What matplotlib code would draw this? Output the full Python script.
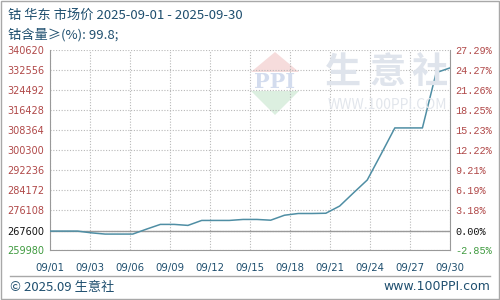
import numpy as np
import matplotlib
matplotlib.use("Agg")
import matplotlib.pyplot as plt
from matplotlib.patches import Polygon, Rectangle
from matplotlib.lines import Line2D

plt.rcParams['font.family'] = ['Noto Sans CJK SC', 'DejaVu Sans']

# 数据：9月每日价格（元/吨）
days = list(range(1, 31))
prices = [267600, 267600, 267600, 266900, 266400, 266400, 266400, 268400,
          270300, 270300, 269900, 271900, 271900, 271900, 272300, 272300,
          272000, 274000, 274700, 274700, 274800, 277700, 283000, 288200,
          298600, 309200, 309200, 309200, 331500, 333400]

y_ticks = [259980, 267600, 276108, 284172, 292236, 300300, 308364,
           316428, 324492, 332556, 340620]
pct_labels = ['-2.85%', '0.00%', '3.18%', '6.19%', '9.21%', '12.22%',
              '15.23%', '18.25%', '21.26%', '24.27%', '27.29%']
x_labels = ['09/01', '09/03', '09/06', '09/09', '09/12', '09/15',
            '09/18', '09/21', '09/24', '09/27', '09/30']
base_price = 267600

title = '钴 华东 市场价 2025-09-01 - 2025-09-30'
subtitle = '钴含量≥(%): 99.8;'

W, H = 500, 300
fig = plt.figure(figsize=(5, 3), dpi=100)
fig.patch.set_facecolor('white')


def fx(px):
    return px / W


def fy(py):
    return 1 - py / H


# 外框和页脚分隔线
fig.add_artist(Rectangle((fx(1), fy(299)), fx(498), 298 / H, transform=fig.transFigure,
                         fill=False, edgecolor='#a8a8a8', lw=1))
fig.add_artist(Line2D([fx(10), fx(490)], [fy(276), fy(276)], transform=fig.transFigure,
                      color='#a8a8a8', lw=1))

# 水印
logo_kw = dict(transform=fig.transFigure, closed=True, lw=0, zorder=0)
fig.add_artist(Polygon([(fx(275), fy(52)), (fx(251), fy(72)), (fx(299), fy(72))],
                       facecolor='#f6dcdc', **logo_kw))
fig.add_artist(Polygon([(fx(251), fy(91)), (fx(299), fy(91)), (fx(275), fy(115))],
                       facecolor='#dcefe0', **logo_kw))
fig.text(fx(275), fy(82), 'PPI', ha='center', va='center', fontsize=15,
         fontweight='bold', color='#d3dcee', family='DejaVu Serif', zorder=0)
for cx, ch in zip([343, 388, 430], '生意社'):
    fig.text(fx(cx), fy(72), ch, ha='center', va='center', fontsize=26,
             fontweight='bold', color='#dfe4ec', zorder=0)
fig.text(fx(387), fy(105), 'WWW.100PPI.COM', ha='center', va='center', fontsize=10,
         color='#e2e6ec', zorder=0)

ax = fig.add_axes([fx(50), fy(250), 400 / W, 200 / H])
ax.patch.set_alpha(0)
ax.plot(days, prices, color='#4f8ea4', lw=1.1, zorder=3)
ax.axhline(base_price, color='#9a9a9a', lw=1, zorder=2)

ax.set_xlim(1, 30)
ax.set_ylim(y_ticks[0], y_ticks[-1])
ax.set_xticks(np.linspace(1, 30, len(x_labels)))
ax.set_xticklabels(x_labels, fontsize=7.3, color='#1f4f6f', family='DejaVu Sans')
ax.set_yticks(y_ticks)
ax.set_yticklabels([str(v) for v in y_ticks], fontsize=7, family='DejaVu Sans')
ax.tick_params(length=0, pad=4)
ax.tick_params(axis='x', pad=9)

def tick_color(i):
    if i == 0:
        return '#3f9a3f'
    if i == 1:
        return '#111111'
    return '#b04848'


for i, lbl in enumerate(ax.get_yticklabels()):
    lbl.set_color(tick_color(i))

ax.grid(True, color='#b8b8b8', linestyle=(0, (1, 1.5)), lw=0.8)
for side in ['left', 'bottom', 'right']:
    ax.spines[side].set_color('#999999')
ax.spines['top'].set_visible(False)

ax2 = ax.twinx()
ax2.set_ylim(ax.get_ylim())
ax2.set_yticks(y_ticks)
ax2.set_yticklabels(pct_labels, fontsize=7.3, family='Liberation Mono')
ax2.tick_params(length=0, pad=4)
for i, lbl in enumerate(ax2.get_yticklabels()):
    lbl.set_color(tick_color(i))
for side in ax2.spines:
    ax2.spines[side].set_visible(False)

# 标题
fig.text(fx(8), fy(15), title, ha='left', va='center', fontsize=9.5,
         color='#1f4f6f', family=['Noto Sans CJK SC', 'DejaVu Sans'])
fig.text(fx(8), fy(35), subtitle, ha='left', va='center', fontsize=9.5,
         color='#1f4f6f', family=['Noto Sans CJK SC', 'DejaVu Sans'])

# 页脚
fig.text(fx(10), fy(287), '© 2025.09 生意社', ha='left', va='center', fontsize=9.5,
         color='#1f4f6f', family=['Noto Sans CJK SC', 'DejaVu Sans'])
fig.text(fx(490), fy(286), 'www.100PPI.com', ha='right', va='center', fontsize=9,
         color='#1f4f6f', family='DejaVu Sans')

fig.savefig('out.png', dpi=100)
